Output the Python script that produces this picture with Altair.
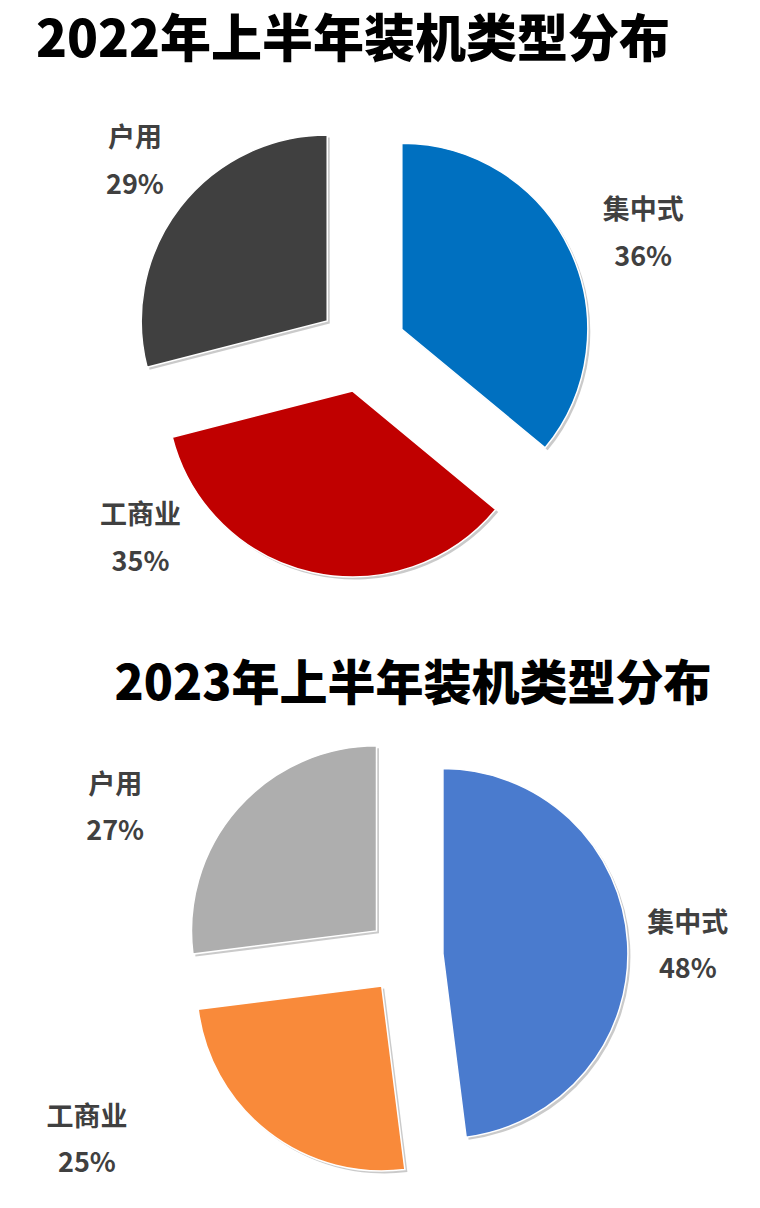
import altair as alt
import pandas as pd

# ---- data ----
categories = ["集中式", "工商业", "户用"]
share_2022 = [36, 35, 29]
share_2023 = [48, 25, 27]
title_2022 = "2022年上半年装机类型分布"
title_2023 = "2023年上半年装机类型分布"

# ---- styles ----
colors_2022 = ["#0070C0", "#C00000", "#404040"]
colors_2023 = ["#4A7BCE", "#F98A3A", "#AEAEAE"]
FONT = "Noto Sans CJK SC"
W = 744

# label placement: (angle shift from slice bisector in degrees, distance from centre)
place_2022 = {"集中式": (3.3, 303), "工商业": (36.5, 293), "户用": (1.4, 293)}
place_2023 = {"集中式": (1.8, 283), "工商业": (22.0, 368), "户用": (-14.5, 325)}


def by_cat(mapping, idx):
    expr = str(mapping[categories[-1]][idx])
    for c in reversed(categories[:-1]):
        expr = f"(datum.cat == '{c}' ? {mapping[c][idx]} : {expr})"
    return expr


def pie(values, colors, title, cx, cy, radius, explode, place, height,
        title_size, title_dx, line_gap):
    df = pd.DataFrame({"cat": categories, "value": values,
                       "order": list(range(len(categories)))})
    base = (
        alt.Chart(df)
        .transform_joinaggregate(total="sum(value)")
        .transform_window(cum="sum(value)", sort=[alt.SortField("order")],
                          frame=[None, 0])
        .transform_calculate(start="2*PI*(datum.cum-datum.value)/datum.total")
        .transform_calculate(end="2*PI*datum.cum/datum.total")
        .transform_calculate(mid="(datum.start+datum.end)/2")
        .transform_calculate(px=f"{cx}+{explode}*sin(datum.mid)")
        .transform_calculate(py=f"{cy}-{explode}*cos(datum.mid)")
        .transform_calculate(la=f"datum.mid+({by_cat(place, 0)})*PI/180")
        .transform_calculate(lr=by_cat(place, 1))
        .transform_calculate(lx=f"{cx}+datum.lr*sin(datum.la)")
        .transform_calculate(ly=f"{cy}-datum.lr*cos(datum.la)")
        .transform_calculate(pct="datum.value + '%'")
        .transform_calculate(sx="datum.px+2.5")
        .transform_calculate(sy="datum.py+2.5")
    )
    theta = alt.Theta("start:Q", scale=None)
    theta2 = alt.Theta2("end:Q")
    shadow = base.mark_arc(radius=radius, color="#8a8a8a", opacity=0.45).encode(
        x=alt.X("sx:Q", scale=None, axis=None),
        y=alt.Y("sy:Q", scale=None, axis=None),
        theta=theta, theta2=theta2,
    )
    arcs = base.mark_arc(radius=radius, stroke="white", strokeWidth=1.5).encode(
        x=alt.X("px:Q", scale=None, axis=None),
        y=alt.Y("py:Q", scale=None, axis=None),
        theta=theta, theta2=theta2,
        color=alt.Color("cat:N", scale=alt.Scale(domain=categories, range=colors),
                        legend=None),
    )
    txt = dict(font=FONT, fontSize=27, fontWeight="bold", color="#404040",
               align="center", baseline="middle")
    names = base.mark_text(dy=-line_gap / 2, **txt).encode(
        x=alt.X("lx:Q", scale=None, axis=None),
        y=alt.Y("ly:Q", scale=None, axis=None),
        text="cat:N",
    )
    pcts = base.mark_text(dy=line_gap / 2, **txt).encode(
        x=alt.X("lx:Q", scale=None, axis=None),
        y=alt.Y("ly:Q", scale=None, axis=None),
        text="pct:N",
    )
    return alt.layer(shadow, arcs, names, pcts).properties(
        width=W, height=height,
        title=alt.TitleParams(title, font=FONT, fontSize=title_size,
                              fontWeight=900, color="#000000", anchor="middle",
                              dx=title_dx, offset=8),
    )


p1 = pie(share_2022, colors_2022, title_2022, cx=354, cy=272, radius=186,
         explode=44, place=place_2022, height=586, title_size=51,
         title_dx=-27, line_gap=47)
p2 = pie(share_2023, colors_2023, title_2023, cx=397, cy=238, radius=185,
         explode=38, place=place_2023, height=476, title_size=48,
         title_dx=33, line_gap=46)

chart = (
    alt.vconcat(p1, p2, spacing=0)
    .resolve_scale(color="independent")
    .properties(padding={"top": 8, "left": 0, "right": 0, "bottom": 0})
    .configure_view(stroke=None)
)

chart.save("out.html", embed_options={"renderer": "svg", "actions": False})
